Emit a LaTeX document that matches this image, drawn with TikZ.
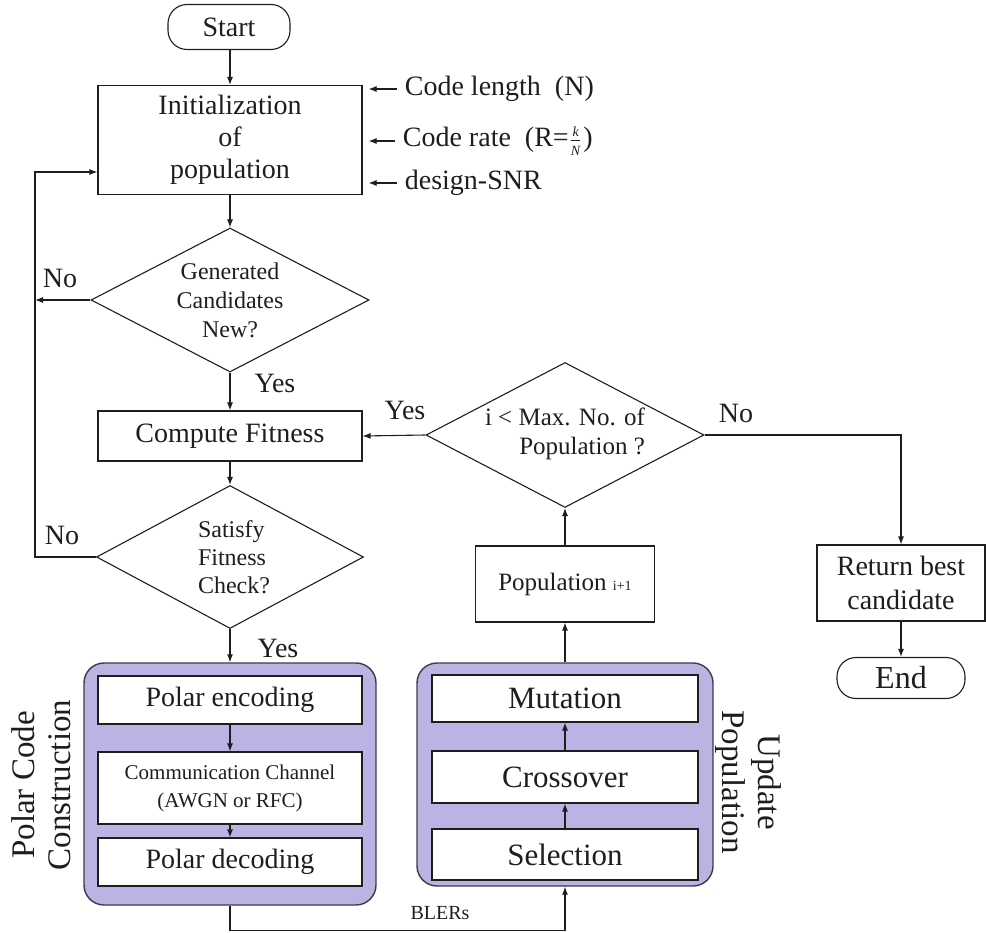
\documentclass[tikz,border=0pt]{standalone}
\usepackage{fontspec}
\setmainfont{Liberation Serif}
\newfontfamily\tms{Liberation Serif}
\usetikzlibrary{arrows.meta,shapes.geometric}
\definecolor{lav}{RGB}{186,180,228}
\definecolor{ink}{RGB}{30,30,30}
\definecolor{rim}{RGB}{60,60,70}
\newcommand{\fsz}[2]{\tms\fontsize{#1}{#2}\selectfont}
\newcommand{\smallit}[1]{\hbox{\tms\fontsize{14}{14}\selectfont\itshape #1}}
\begin{document}
\tms
\begin{tikzpicture}[x=1pt,y=-1pt,line width=1.1pt,
  every node/.style={text=ink},
  arr/.style={draw=ink,-{Latex[length=8pt,width=6pt]}},
  box/.style={draw=ink,fill=white,inner sep=0pt,align=center},
  pill/.style={draw=ink,fill=white,rounded corners=19pt,inner sep=0pt},
  dia/.style={draw=ink,diamond,inner sep=0pt},
  grp/.style={draw=rim,fill=lav,line width=1.4pt,rounded corners=20pt,inner sep=0pt},
  lbl/.style={font=\fsz{28}{32}}]
\useasboundingbox (0,0) rectangle (986,933);

% main column
\node[pill,minimum width=122pt,minimum height=45pt,font=\fsz{28}{32}] (start) at (229,27) {Start};
\node[box,minimum width=264pt,minimum height=109pt,font=\fsz{28}{32}] (init) at (230,140) {Initialization\\of\\population};

% design inputs
\node[anchor=west,font=\fsz{28}{32}] (in1) at (401,89) {Code length\hspace{14pt}(N)};
\node[anchor=west,font=\fsz{28}{32}] (in2) at (399,141) {Code rate\hspace{14pt}(R=\kern1pt$\frac{\smallit{k}}{\smallit{N}}$\kern2pt)};
\node[anchor=west,font=\fsz{28}{32}] (in3) at (401,183) {design-SNR};
\foreach \n in {in1,in2,in3}
  \draw[arr,shorten >=6pt] ([xshift=-4pt]\n.west) -- (\n.west -| init.east);

\node[dia,minimum width=278pt,minimum height=144pt] (d1) at (230,300) {};
\node[align=center,font=\fsz{24}{29}] at (d1) {Generated\\Candidates\\New?};

\node[box,minimum width=264pt,minimum height=50pt,font=\fsz{28}{32}] (comp) at (230,436) {Compute Fitness};

\node[dia,minimum width=267pt,minimum height=143pt] (d2) at (230,557) {};
\node[align=left,font=\fsz{24}{28}] at (234,557) {Satisfy\\Fitness\\Check?};

% polar code construction block
\node[grp,minimum width=292pt,minimum height=242pt] (pgrp) at (230,784) {};
\node[box,minimum width=264pt,minimum height=48pt,font=\fsz{28}{32}] (penc) at (230,700) {Polar encoding};
\node[box,minimum width=264pt,minimum height=72pt,font=\fsz{21}{28}] (chan) at (230,788) {Communication Channel\\(AWGN or RFC)};
\node[box,minimum width=264pt,minimum height=48pt,font=\fsz{28}{32}] (pdec) at (230,862) {Polar decoding};
\node[rotate=90,align=center,font=\fsz{33}{36}] (plab) at (41,785) {Polar Code\\Construction};

% population update block
\node[grp,minimum width=296pt,minimum height=223pt] (ugrp) at (565,774.5) {};
\node[box,minimum width=266pt,minimum height=47pt,font=\fsz{31}{34}] (mut) at (565,698.5) {Mutation};
\node[box,minimum width=266pt,minimum height=52pt,font=\fsz{31}{34}] (cross) at (565,777) {Crossover};
\node[box,minimum width=266pt,minimum height=51pt,font=\fsz{31}{34}] (sel) at (565,854.5) {Selection};
\node[rotate=-90,align=center,font=\fsz{33}{36}] (ulab) at (748,782) {Update\\Population};

\node[box,minimum width=179pt,minimum height=76pt,font=\fsz{25}{30}] (pop) at (565,584) {Population {\fsz{14}{16}i+1}};

\node[dia,minimum width=278pt,minimum height=145pt] (d3) at (565,435) {};
\node[align=right,font=\fsz{25}{29}] at (565,434) {i < Max. No. of\\Population ?};

\node[box,minimum width=168pt,minimum height=76pt,font=\fsz{28}{34}] (ret) at (901,583) {Return best\\candidate};
\node[pill,minimum width=128pt,minimum height=41pt,font=\fsz{32}{34}] (end) at (901,678) {End};

% loop-back path on the left
\coordinate (loopB) at (35,557);
\coordinate (loopT) at (35,172);
\coordinate (initin) at (init.west |- loopT);

% connectors
\draw[arr] (start.south -| init.north) -- (init.north);
\draw[arr] (init) -- (d1);
\draw[arr] (d1) -- (comp);
\draw[arr] (comp) -- (d2);
\draw[arr] (d2) -- (pgrp);
\draw[arr] (penc) -- (chan);
\draw[arr] (chan) -- (pdec);
\draw[arr] (d1.west) -- (d1.west -| loopB);
\draw[arr] (d2.west) -- (loopB) -- (loopT) -- (initin);
\draw[arr] (pgrp.south) -- ++(0,25) -| (ugrp.south);
\draw[arr] (sel) -- (cross);
\draw[arr] (cross) -- (mut);
\draw[arr] (ugrp) -- (pop);
\draw[arr] (pop) -- (d3);
\draw[arr] (d3.west) -- (comp.east);
\draw[arr] (d3.east) -| (ret.north);
\draw[arr] (ret) -- (end);

% branch labels
\node[lbl] at (60,278) {No};
\node[lbl] at (62,535) {No};
\node[lbl] at (275,383) {Yes};
\node[lbl] at (278,648) {Yes};
\node[lbl] at (405,410) {Yes};
\node[lbl] at (736,413) {No};
\node[font=\fsz{20}{24}] at (440,913) {BLERs};
\end{tikzpicture}
\end{document}
